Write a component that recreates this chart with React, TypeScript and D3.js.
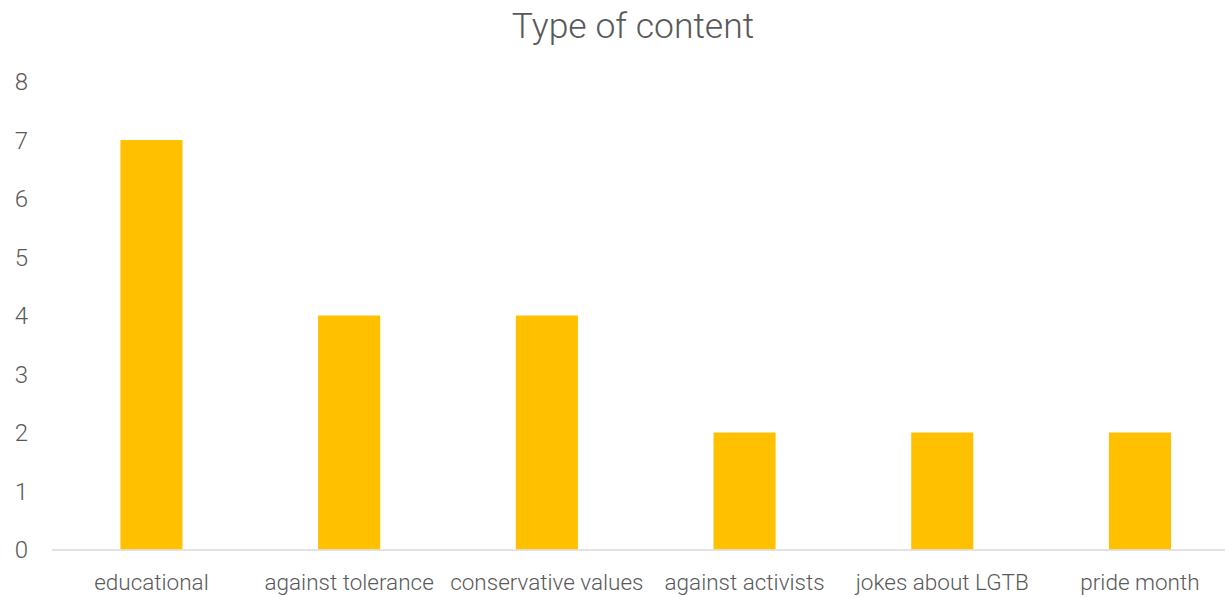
import React from "react";
import * as d3 from "d3";

const categories = ["educational", "against tolerance", "conservative values", "against activists", "jokes about LGTB", "pride month"];
const values = [7, 4, 4, 2, 2, 2];
const yTicks = [0, 1, 2, 3, 4, 5, 6, 7, 8];
const title = "Type of content";

const W = 1225;
const H = 597;
const FONT = "Roboto, 'Open Sans', sans-serif";
const TEXT = "#595959";

export default function App() {
  const x = d3.scaleBand<string>().domain(categories).range([52.6, 1238.8]).paddingInner(0).paddingOuter(0);
  const y = d3.scaleLinear().domain([0, 8]).range([549.5, 81.5]);
  const barW = x.bandwidth() * 0.314;
  return (
    <svg width={W} height={H} style={{ position: "absolute", left: 0, top: 0, background: "#fff" }}>
      <text x={633} y={38} textAnchor="middle" fontFamily={FONT} fontWeight={300} fontSize={35.5} fill={TEXT}>{title}</text>
      {yTicks.map((t) => (
        <text key={t} x={28} y={y(t)} dy="0.36em" textAnchor="end" fontFamily={FONT} fontWeight={300} fontSize={24} fill={TEXT}>{t}</text>
      ))}
      {categories.map((c, i) => {
        const cx = (x(c) as number) + x.bandwidth() / 2;
        return (
          <rect key={c} x={cx - barW / 2} y={y(values[i])} width={barW} height={y(0) - y(values[i])} fill="#FFC000" />
        );
      })}
      <line x1={52} x2={W} y1={y(0) + 0.5} y2={y(0) + 0.5} stroke="#D9D9D9" strokeWidth={1.5} />
      {categories.map((c) => (
        <text key={c} x={(x(c) as number) + x.bandwidth() / 2} y={590} textAnchor="middle" fontFamily={FONT} fontWeight={300} fontSize={22.5} fill={TEXT}>{c}</text>
      ))}
    </svg>
  );
}
